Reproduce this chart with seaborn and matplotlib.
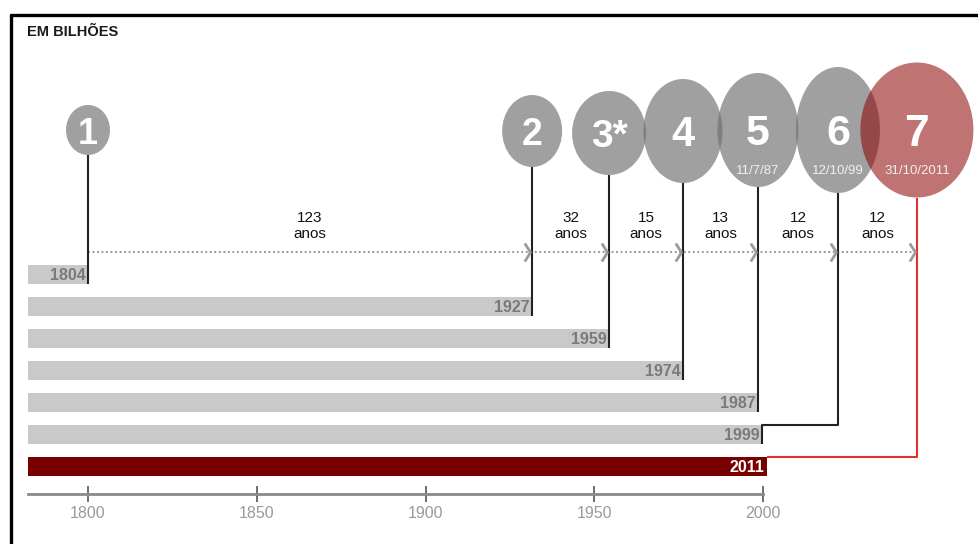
import matplotlib
matplotlib.use("Agg")
import matplotlib.pyplot as plt
from matplotlib.patches import Ellipse
from matplotlib.lines import Line2D
import seaborn as sns
import pandas as pd

# ---------------- data ----------------
bar_labels = ["1804", "1927", "1959", "1974", "1987", "1999", "2011"]
bar_end = [1800, 1931.6, 1954.4, 1976.3, 1998.5, 1999.7, 2001.2]   # drawn bar ends (not to scale in source)
milestone_x = [1800, 1931.6, 1954.4, 1976.3, 1998.5, 2022.2, 2045.6]
milestone_text = ["1", "2", "3*", "4", "5", "6", "7"]
milestone_dates = ["", "", "", "", "11/7/87", "12/10/99", "31/10/2011"]
interval_years = ["123", "32", "15", "13", "12", "12"]
axis_ticks = [1800, 1850, 1900, 1950, 2000]
title = "EM BILHÕES"

# ---------------- layout / style ----------------
W, H = 979, 544
PX_PER_YEAR = 3.375
ROW0_PX, ROW_PITCH = 274.5, 32.0
X0_PX = 28
AX_BOTTOM_PX = 494
xmin = 1800 - (88 - X0_PX) / PX_PER_YEAR
xmax = 1800 + (W - 88) / PX_PER_YEAR

def ry(px):  # vertical pixel -> row units
    return (px - ROW0_PX) / ROW_PITCH

ell_w_px = [44, 60, 74, 79, 81, 84, 113]
ell_h_px = [50, 72, 84, 104, 114, 126, 135]
ell_cy_px = [130, 131, 133, 131, 130, 130, 130]
num_sizes = [26, 27, 28, 30, 31, 31, 32]
GRAY_BAR = "#c9c9c9"
RED_BAR = "#780000"
REG = ["Liberation Sans", "DejaVu Sans"]

sns.set_style("white")
plt.rcParams["font.family"] = REG

fig = plt.figure(figsize=(W / 100, H / 100), dpi=100)
ax = fig.add_axes([X0_PX / W, (H - AX_BOTTOM_PX) / H, (W - X0_PX) / W, AX_BOTTOM_PX / H])

df = pd.DataFrame({"label": bar_labels, "end": bar_end})
palette = [GRAY_BAR] * (len(bar_labels) - 1) + [RED_BAR]
sns.barplot(data=df, x="end", y="label", hue="label", palette=palette,
            legend=False, width=0.62, orient="h", ax=ax, saturation=1,
            linewidth=0)

ax.set_xlim(xmin, xmax)
ax.set_ylim(ry(AX_BOTTOM_PX), ry(0))
ax.set_xlabel("")
ax.set_ylabel("")
ax.set_yticks([])
for s in ["top", "right", "left"]:
    ax.spines[s].set_visible(False)
ax.spines["bottom"].set_bounds(xmin, 2000)
ax.spines["bottom"].set_color("#8a8a8a")
ax.spines["bottom"].set_linewidth(2)
ax.set_xticks(axis_ticks)
ax.set_xticklabels([str(t) for t in axis_ticks])
ax.tick_params(axis="x", bottom=True, direction="inout", length=12, width=1.2,
               color="#555555", labelcolor="#9a9a9a", labelsize=11.5, pad=3)

# bar labels
for i, (lab, end) in enumerate(zip(bar_labels, bar_end)):
    col = "white" if i == len(bar_labels) - 1 else "#7a7a7a"
    ax.text(end - 0.7, i + 0.02, lab, ha="right", va="center", fontsize=11.5,
            fontweight="bold", color=col, zorder=5)

# circles
for i, x in enumerate(milestone_x):
    red = i == len(milestone_x) - 1
    e = Ellipse((x, ry(ell_cy_px[i])), ell_w_px[i] / PX_PER_YEAR, ell_h_px[i] / ROW_PITCH,
                facecolor="#8b0000" if red else "#6f6f6f", alpha=0.55 if red else 0.66,
                edgecolor="none", zorder=3, clip_on=False)
    ax.add_patch(e)
    ty = ry(ell_cy_px[i] + 4)
    ax.text(x, ty, milestone_text[i], ha="center", va="center", color="white",
            fontsize=num_sizes[i], fontweight="bold", zorder=6)
    if milestone_dates[i]:
        ax.text(x, ry(171), milestone_dates[i], ha="center", va="center",
                color="#f0f0f0", fontsize=9.5, zorder=6)

# connectors
n = len(milestone_x)
for i, x in enumerate(milestone_x):
    top = ry(ell_cy_px[i]) + ell_h_px[i] / ROW_PITCH / 2
    if i < n - 2:
        ax.plot([x, x], [top, i + 0.31], color="#222222", lw=1.5, zorder=2,
                solid_capstyle="butt")
    elif i == n - 2:
        ax.plot([x, x, bar_end[i], bar_end[i]], [top, i - 0.31, i - 0.31, i + 0.31],
                color="#222222", lw=1.5, zorder=2, solid_capstyle="butt")
    else:
        ax.plot([x, x, bar_end[i]], [top, i - 0.31, i - 0.31],
                color="#e03030", lw=1.5, zorder=2, solid_capstyle="butt")

# dotted timeline with chevrons
y_dot = ry(252)
ax.plot([milestone_x[0], milestone_x[-1]], [y_dot, y_dot], color="#8a8a8a",
        lw=1.3, ls=(0, (1, 1.5)), zorder=1)
chev = [(-1, 1.6), (0, 0), (-1, -1.6)]
ax.plot([x - 0.5 for x in milestone_x[1:]], [y_dot] * (n - 1), ls="none",
        marker=chev, ms=13, mfc="none", mec="#9a9a9a", mew=2, zorder=2)

# interval labels
for i, yrs in enumerate(interval_years):
    mx = (milestone_x[i] + milestone_x[i + 1]) / 2
    ax.text(mx, ry(218), yrs, ha="center", va="center", fontsize=11,
            color="#111111", zorder=4)
    ax.text(mx, ry(234), "anos", ha="center", va="center", fontsize=11,
            color="#111111", zorder=4)

# frame lines and title
fig.add_artist(Line2D([11 / W, 11 / W], [0, 1 - 15 / H], color="black", lw=2.4,
                      transform=fig.transFigure))
fig.add_artist(Line2D([11 / W, 1], [1 - 15 / H, 1 - 15 / H], color="black", lw=2.4,
                      transform=fig.transFigure))
fig.text(27 / W, 1 - 32 / H, title, ha="left", va="center", fontsize=10.5,
         fontweight="bold", color="#1a1a1a")

fig.savefig("out.png", dpi=100)
